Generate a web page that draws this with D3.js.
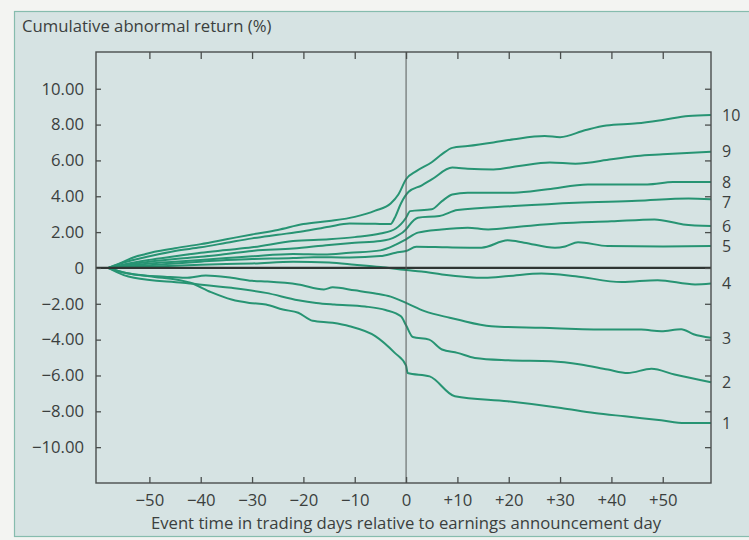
<!DOCTYPE html>
<html><head><meta charset="utf-8">
<script src="https://cdn.jsdelivr.net/npm/d3@7"></script>
<style>
html,body{margin:0;padding:0;background:#f3f4f2;}
svg{display:block;}
text{font-family:"Open Sans",sans-serif;fill:#3b3f3e;}
</style></head>
<body>
<svg id="chart" width="749" height="540"></svg>
<script>
// ---- data ----
const xTicks = [-50,-40,-30,-20,-10,0,10,20,30,40,50];
const xTickLabels = ["\u221250","\u221240","\u221230","\u221220","\u221210","0","+10","+20","+30","+40","+50"];
const yTicks = [10,8,6,4,2,0,-2,-4,-6,-8,-10];
const yTickLabels = ["10.00","8.00","6.00","4.00","2.00","0","\u22122.00","\u22124.00","\u22126.00","\u22128.00","\u221210.00"];
const portfolios = ["1","2","3","4","5","6","7","8","9","10"];

const s10 = [[-58,0],[-55,0.35],[-53,0.6],[-51,0.75],[-49,0.9],[-45,1.1],[-40,1.33],[-35,1.6],[-30,1.87],[-25,2.12],[-20,2.45],[-15,2.62],[-10,2.85],[-6,3.2],[-3,3.6],[-1.5,4.1],[0,4.95],[2,5.4],[5,5.9],[7,6.35],[9,6.7],[12,6.8],[17,7.0],[21,7.18],[27,7.36],[30,7.3],[35,7.7],[39,7.95],[45,8.07],[50,8.26],[55,8.48],[59.4,8.54]];
const s9 = [[-58,0],[-55,0.3],[-50,0.65],[-45,0.95],[-40,1.15],[-35,1.4],[-30,1.65],[-25,1.85],[-20,2.05],[-15,2.3],[-11,2.48],[-6,2.46],[-3,2.45],[-2.2,2.8],[-1,3.6],[0.5,4.25],[3,4.6],[5,4.94],[9,5.6],[12,5.54],[17,5.5],[22,5.69],[28,5.88],[33,5.82],[40,6.06],[45,6.25],[50,6.34],[59.4,6.49]];
const s8 = [[-58,0],[-55,0.2],[-50,0.45],[-45,0.65],[-40,0.85],[-35,1.0],[-30,1.15],[-22,1.5],[-15,1.6],[-10,1.72],[-5,1.92],[-2,2.2],[0,2.8],[0.8,3.17],[5,3.27],[7,3.73],[9,4.1],[12,4.2],[21,4.2],[27.6,4.39],[35.4,4.66],[47,4.66],[52,4.79],[59.4,4.8]];
const s7 = [[-58,0],[-55,0.15],[-50,0.35],[-45,0.5],[-40,0.62],[-35,0.78],[-30,0.95],[-22,1.08],[-15,1.28],[-10,1.4],[-5,1.5],[-2,1.75],[0,2.15],[0.5,2.34],[2.3,2.8],[6.5,2.9],[10,3.23],[21,3.45],[33,3.64],[45,3.75],[55,3.88],[59.4,3.83]];
const s6 = [[-58,0],[-55,0.1],[-50,0.25],[-45,0.35],[-40,0.45],[-35,0.55],[-30,0.65],[-22,0.78],[-16,0.75],[-11,0.85],[-5,0.98],[-2,1.3],[0,1.6],[2.3,1.97],[6.9,2.15],[12,2.25],[16,2.15],[22,2.3],[30,2.49],[40,2.6],[48.4,2.71],[54,2.43],[59.4,2.34]];
const s5 = [[-58,0],[-55,0.08],[-50,0.15],[-45,0.25],[-40,0.35],[-35,0.45],[-30,0.5],[-22,0.55],[-18,0.6],[-11,0.58],[-5,0.66],[-2,0.85],[0,0.95],[2,1.18],[8,1.15],[14.7,1.13],[19.8,1.54],[23,1.41],[29,1.13],[31,1.2],[33.5,1.44],[39.3,1.22],[50,1.2],[59.4,1.22]];
const s4 = [[-58,0],[-55,0.03],[-50,0.08],[-45,0.12],[-40,0.18],[-35,0.22],[-30,0.25],[-22,0.35],[-15,0.3],[-10,0.18],[-5,0.05],[0,-0.12],[3,-0.2],[7,-0.36],[15.3,-0.55],[20,-0.45],[26.4,-0.31],[33,-0.46],[42,-0.79],[49,-0.68],[56.3,-0.92],[59.4,-0.87]];
const s3 = [[-58,0],[-55,-0.25],[-53,-0.36],[-47,-0.49],[-43,-0.55],[-39,-0.42],[-34,-0.55],[-30,-0.72],[-27,-0.76],[-21,-0.92],[-16,-1.2],[-14.3,-1.08],[-10,-1.25],[-6,-1.42],[-3,-1.6],[0,-1.95],[3.6,-2.41],[8.5,-2.78],[10,-2.88],[16.6,-3.25],[26.4,-3.34],[39.3,-3.44],[45.8,-3.44],[49.7,-3.53],[53.6,-3.42],[56,-3.7],[59.4,-3.9]];
const s2 = [[-58,0],[-55,-0.4],[-53,-0.55],[-43.5,-0.83],[-34,-1.11],[-27.3,-1.39],[-21,-1.8],[-17.5,-1.95],[-14,-2.04],[-8,-2.15],[-4,-2.35],[-1,-2.7],[0,-3.2],[1.3,-3.85],[4.5,-4.0],[7,-4.55],[10,-4.74],[13.4,-5.02],[19.8,-5.15],[28.3,-5.21],[34,-5.39],[39.3,-5.67],[43.2,-5.86],[47.8,-5.63],[52.3,-5.95],[59.4,-6.38]];
const s1 = [[-58,0],[-55,-0.25],[-50,-0.46],[-42,-0.83],[-38,-1.35],[-34,-1.76],[-30.5,-1.95],[-27.3,-2.04],[-24,-2.32],[-21,-2.5],[-18.2,-2.95],[-14.3,-3.06],[-11,-3.25],[-6,-3.8],[-2.2,-4.74],[0,-5.45],[0.3,-5.86],[4.6,-6.05],[9.5,-7.16],[19.8,-7.44],[30.2,-7.81],[36.7,-8.09],[42.6,-8.28],[49.7,-8.5],[54.3,-8.65],[59.4,-8.65]];
const seriesList = [s1,s2,s3,s4,s5,s6,s7,s8,s9,s10];

// ---- layout ----
const W = 749, H = 540;
const plot = {left:96, right:711, top:52, bottom:483};
const lineColor = "#279473";
const axisColor = "#4a4e4d";
const FS = "16.7px";

const svg = d3.select("#chart");
svg.append("rect").attr("x",0).attr("y",0).attr("width",W).attr("height",H).attr("fill","#f3f4f2");
svg.append("rect").attr("x",14.5).attr("y",11.5).attr("width",W).attr("height",525)
  .attr("fill","#d6e3e3").attr("stroke","#86bcae").attr("stroke-width",1.2);

const x = d3.scaleLinear().domain([-60.4,59.4]).range([plot.left,plot.right]);
const y = d3.scaleLinear().domain([-12,12.05]).range([plot.bottom,plot.top]);

// series lines
const line = d3.line().x(d=>x(d[0])).y(d=>y(d[1])).curve(d3.curveMonotoneX);
svg.append("g").selectAll("path").data(seriesList).join("path")
  .attr("d",line).attr("fill","none").attr("stroke",lineColor)
  .attr("stroke-width",2).attr("stroke-linejoin","round");

// zero line and event line
svg.append("line").attr("x1",plot.left).attr("x2",plot.right).attr("y1",y(0)).attr("y2",y(0))
  .attr("stroke","#2f3533").attr("stroke-width",2.2);
svg.append("line").attr("x1",x(0)).attr("x2",x(0)).attr("y1",plot.top).attr("y2",plot.bottom)
  .attr("stroke","#555a59").attr("stroke-width",1);

// frame
svg.append("rect").attr("x",plot.left).attr("y",plot.top)
  .attr("width",plot.right-plot.left).attr("height",plot.bottom-plot.top)
  .attr("fill","none").attr("stroke",axisColor).attr("stroke-width",1.4);

// axes with inward ticks
const fmtX = d => xTickLabels[xTicks.indexOf(d)];
const fmtY = d => yTickLabels[yTicks.indexOf(d)];

const gBottom = svg.append("g").attr("transform",`translate(0,${plot.bottom})`)
  .call(d3.axisBottom(x).tickValues(xTicks).tickSize(-6).tickPadding(11).tickFormat(fmtX));
const gTop = svg.append("g").attr("transform",`translate(0,${plot.top})`)
  .call(d3.axisTop(x).tickValues(xTicks).tickSize(-7).tickFormat(""));
const gLeft = svg.append("g").attr("transform",`translate(${plot.left},0)`)
  .call(d3.axisLeft(y).tickValues(yTicks).tickSize(-5).tickPadding(12).tickFormat(fmtY));
const gRight = svg.append("g").attr("transform",`translate(${plot.right},0)`)
  .call(d3.axisRight(y).tickValues(yTicks).tickSize(-6).tickFormat(""));
[gBottom,gTop,gLeft,gRight].forEach(g=>{
  g.select(".domain").remove();
  g.selectAll(".tick line").attr("stroke",axisColor).attr("stroke-width",1.3);
  g.selectAll("text").style("font-family","'Open Sans',sans-serif").style("font-size",FS).attr("fill","#3b3f3e");
});

// portfolio labels at the right, spread so they do not collide
const labelY = seriesList.map(s=>y(s[s.length-1][1]));
const order = d3.range(labelY.length).sort((a,b)=>labelY[a]-labelY[b]);
const minGap = 20.5;
for (let k=1;k<order.length;k++){
  const prev = labelY[order[k-1]], cur = labelY[order[k]];
  if (cur - prev < minGap) labelY[order[k]] = prev + minGap;
}
svg.append("g").selectAll("text").data(seriesList).join("text")
  .attr("x",plot.right+11)
  .attr("y",(d,i)=>labelY[i])
  .attr("dy","0.36em")
  .style("font-size","16px")
  .text((d,i)=>portfolios[i]);

// titles
svg.append("text").attr("x",22).attr("y",32).style("font-size",FS)
  .text("Cumulative abnormal return (%)");
svg.append("text").attr("x",x(0)).attr("y",529).attr("text-anchor","middle").style("font-size",FS)
  .text("Event time in trading days relative to earnings announcement day");
</script>
</body></html>
